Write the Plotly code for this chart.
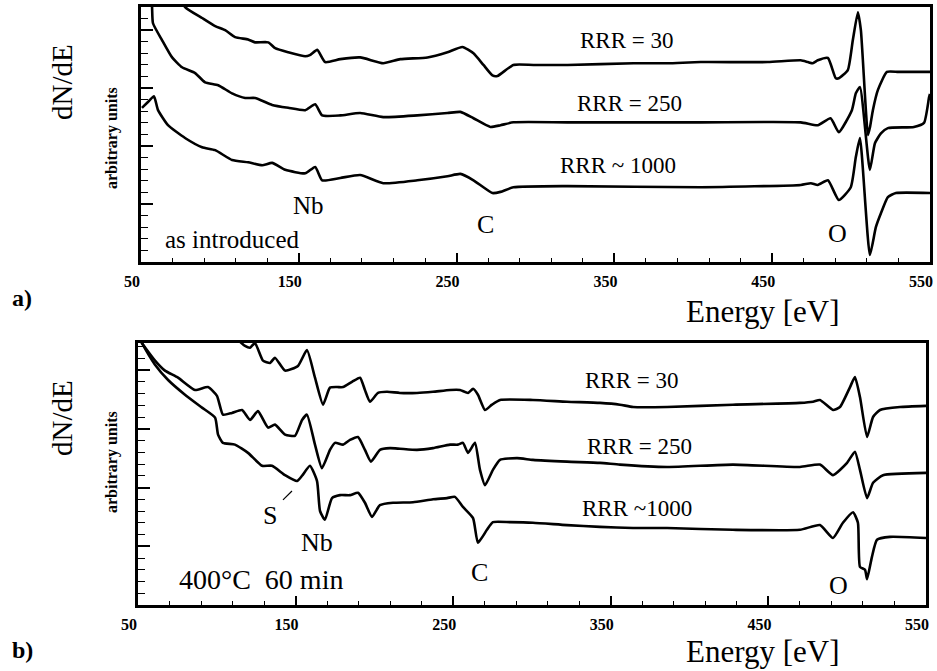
import plotly.graph_objects as go

# ---------------- Panel a) "as introduced" ----------------
a_rrr30_E = [65, 77.9, 88.7, 97.0, 103.3, 109.6, 117.9, 122.3, 130.6, 135.0, 143.3, 154.1, 157.0,
             161.7, 166.7, 176.3, 188.9, 203.5, 214.3, 231.5, 244.2, 253.7, 260.7, 267.0, 272.7,
             275.9, 286.0, 298.7, 320.3, 362.2, 383.7, 404.7, 447.2, 468.1, 472.6, 475.7, 478.9,
             485.3, 490.3, 492.2, 497.9, 501.1, 504.3, 506.2, 510.7, 512.0, 513.8, 517.0, 522.7,
             530.0, 550.0]
a_rrr30_N = [5.0, 4.40, 4.21, 4.07, 4.00, 3.88, 3.84, 3.79, 3.79, 3.69, 3.62, 3.55, 3.57,
             3.66, 3.45, 3.50, 3.53, 3.43, 3.50, 3.53, 3.62, 3.71, 3.60, 3.40, 3.22,
             3.21, 3.40, 3.40, 3.40, 3.43, 3.43, 3.45, 3.45, 3.48, 3.45, 3.43, 3.48,
             3.52, 3.17, 3.17, 3.31, 3.83, 4.31, 4.00, 2.19, 2.33, 2.62, 2.97, 3.28,
             3.28, 3.28]

a_rrr250_E = [55.0, 57.0, 57.6, 63.3, 69.7, 76.0, 84.3, 90.6, 98.9, 107.7, 116.0, 122.3, 133.1,
              143.3, 154.1, 160.4, 164.8, 176.3, 188.9, 203.5, 225.1, 244.2, 252.4, 260.7, 271.4,
              277.8, 286.0, 320.3, 404.7, 468.1, 478.9, 487.0, 492.2, 500.5, 503.0, 505.6, 511.9,
              515.1, 518.9, 523.3, 539.8, 546.2, 549.4, 550.0]
a_rrr250_N = [5.2, 4.40, 4.12, 3.83, 3.53, 3.36, 3.26, 3.10, 3.05, 2.91, 2.83, 2.83, 2.71,
              2.66, 2.62, 2.72, 2.53, 2.53, 2.57, 2.50, 2.53, 2.57, 2.59, 2.48, 2.33,
              2.36, 2.41, 2.41, 2.41, 2.41, 2.36, 2.48, 2.24, 2.62, 2.91, 3.02, 1.59,
              2.05, 2.22, 2.31, 2.33, 2.40, 2.84, 2.90]

a_rrr1000_E = [50.6, 54.4, 58.2, 60.8, 67.1, 77.9, 88.7, 97.0, 107.7, 117.9, 126.8, 133.1, 141.4,
               154.1, 160.4, 164.8, 176.3, 188.9, 203.5, 225.1, 244.2, 252.4, 260.7, 272.7, 277.8,
               286.0, 320.3, 404.7, 468.1, 474.5, 478.9, 485.3, 492.2, 499.8, 503.0, 505.6, 511.9,
               515.7, 518.9, 523.3, 528.4, 550.0]
a_rrr1000_N = [2.66, 2.76, 2.86, 2.62, 2.36, 2.14, 1.98, 1.93, 1.76, 1.72, 1.67, 1.71, 1.59,
               1.53, 1.64, 1.41, 1.45, 1.50, 1.36, 1.41, 1.48, 1.52, 1.41, 1.19, 1.21,
               1.29, 1.31, 1.29, 1.33, 1.36, 1.33, 1.41, 1.07, 1.29, 1.81, 2.14, 0.12,
               0.60, 0.84, 1.12, 1.19, 1.19]

# ---------------- Panel b) "400°C 60 min" ----------------
b_rrr30_E = [105.0, 114.0, 117.9, 121.1, 124.2, 129.3, 133.8, 136.9, 143.3, 151.5, 157.2, 162.3,
             167.4, 171.8, 176.3, 180.1, 185.8, 190.9, 194.0, 197.2, 202.3, 208.0, 216.2, 227.0,
             237.2, 248.0, 254.3, 259.4, 262.6, 265.7, 270.2, 274.6, 279.7, 300.6, 322.2, 343.1,
             355.8, 364.1, 385.7, 427.5, 470.0, 478.3, 482.7, 491.0, 495.4, 501.8, 504.9, 508.1,
             512.6, 516.4, 520.8, 533.5, 550.0]
b_rrr30_N = [4.75, 4.50, 4.41, 4.38, 4.46, 4.16, 4.12, 4.21, 3.99, 4.07, 4.34, 3.87,
             3.41, 3.70, 3.71, 3.71, 3.80, 3.87, 3.66, 3.46, 3.61, 3.63, 3.61, 3.61,
             3.63, 3.66, 3.66, 3.61, 3.68, 3.58, 3.32, 3.41, 3.49, 3.49, 3.46, 3.44,
             3.41, 3.37, 3.37, 3.41, 3.44, 3.46, 3.49, 3.32, 3.37, 3.71, 3.88, 3.54,
             2.86, 3.20, 3.32, 3.37, 3.39]

b_rrr250_E = [50.0, 52.5, 60.8, 67.1, 75.4, 86.2, 94.4, 100.1, 103.9, 109.6, 116.0, 121.1, 126.1,
              132.5, 136.9, 143.3, 149.6, 154.1, 157.2, 162.3, 166.7, 171.8, 175.0, 180.1, 184.5,
              189.6, 194.0, 197.8, 203.5, 209.9, 216.2, 227.0, 237.2, 248.0, 253.0, 256.2, 259.4,
              263.8, 267.0, 270.2, 275.2, 279.7, 290.5, 300.6, 322.2, 343.1, 355.8, 385.7, 427.5,
              470.0, 482.7, 491.0, 499.9, 504.9, 508.1, 512.6, 516.4, 522.7, 550.0]
b_rrr250_N = [4.60, 4.46, 4.16, 3.99, 3.87, 3.66, 3.71, 3.56, 3.24, 3.27, 3.32, 3.15, 3.30,
              3.02, 3.07, 2.90, 2.88, 3.15, 3.24, 2.73, 2.33, 2.64, 2.76, 2.73, 2.81,
              2.86, 2.64, 2.44, 2.64, 2.67, 2.66, 2.64, 2.67, 2.73, 2.73, 2.76, 2.59,
              2.76, 2.30, 2.04, 2.30, 2.47, 2.50, 2.47, 2.44, 2.42, 2.39, 2.35, 2.39,
              2.35, 2.39, 2.21, 2.42, 2.61, 2.30, 1.82, 2.08, 2.21, 2.25]

b_rrr1000_E = [50.0, 52.5, 60.8, 69.1, 79.8, 90.6, 98.9, 100.8, 103.9, 111.5, 119.8, 128.7, 135.0,
               143.3, 150.9, 154.1, 159.1, 163.6, 165.5, 168.6, 173.1, 178.2, 184.5, 189.6, 194.0,
               198.5, 203.5, 211.8, 224.5, 237.2, 246.1, 251.1, 256.2, 262.6, 265.7, 271.4, 275.2,
               286.0, 300.6, 322.2, 343.1, 364.1, 385.7, 427.5, 470.0, 482.7, 491.0, 497.3, 503.7,
               506.8, 508.1, 511.3, 512.6, 515.7, 518.9, 527.1, 550.0]
b_rrr1000_N = [4.60, 4.46, 4.09, 3.83, 3.58, 3.36, 3.19, 2.90, 2.76, 2.73, 2.59, 2.37, 2.37,
               2.21, 2.11, 2.20, 2.37, 2.11, 1.60, 1.45, 1.82, 1.87, 1.87, 1.91, 1.74,
               1.50, 1.70, 1.74, 1.75, 1.80, 1.82, 1.84, 1.67, 1.48, 1.06, 1.28, 1.41,
               1.41, 1.40, 1.36, 1.33, 1.31, 1.31, 1.28, 1.28, 1.36, 1.14, 1.40, 1.58,
               1.40, 0.65, 0.60, 0.44, 0.82, 1.11, 1.16, 1.14]

x_ticks = [50, 150, 250, 350, 450, 550]
x_ticklabels = ["50", "150", "250", "350", "450", "550"]

SERIF = "Liberation Serif, Times New Roman, serif"
LW = 2.6

fig = go.Figure()
for E, N in [(a_rrr30_E, a_rrr30_N), (a_rrr250_E, a_rrr250_N), (a_rrr1000_E, a_rrr1000_N)]:
    fig.add_trace(go.Scatter(x=E, y=N, mode="lines",
                             line=dict(color="black", width=LW, shape="spline", smoothing=0.5),
                             xaxis="x", yaxis="y", showlegend=False, hoverinfo="skip"))
for E, N in [(b_rrr30_E, b_rrr30_N), (b_rrr250_E, b_rrr250_N), (b_rrr1000_E, b_rrr1000_N)]:
    fig.add_trace(go.Scatter(x=E, y=N, mode="lines",
                             line=dict(color="black", width=LW, shape="spline", smoothing=0.5),
                             xaxis="x2", yaxis="y2", showlegend=False, hoverinfo="skip"))

W, H = 937, 671

def xax(domain, anchor):
    return dict(domain=domain, anchor=anchor, range=[50, 550], tickmode="array",
                tickvals=x_ticks, ticktext=x_ticklabels, ticks="inside", ticklen=9,
                tickwidth=1.6, tickcolor="black", showline=True, linewidth=3,
                linecolor="black", mirror=True, showgrid=False, zeroline=False,
                ticklabelstandoff=3, ticklabelshift=-9, automargin=False,
                ticklabeloverflow="allow",
                tickfont=dict(family=SERIF, size=16, color="black", weight="bold"),
                minor=dict(tick0=50, dtick=20, ticks="inside", ticklen=4, tickwidth=1.4,
                           tickcolor="black", showgrid=False))

def yax(domain, anchor, top):
    return dict(domain=domain, anchor=anchor, range=[0, top], tick0=0, dtick=1,
                ticks="inside", ticklen=12, tickwidth=1.6, tickcolor="black",
                showticklabels=False, showline=True, linewidth=3, linecolor="black",
                mirror=True, showgrid=False, zeroline=False, automargin=False,
                minor=dict(tick0=0, dtick=0.2, ticks="inside", ticklen=7, tickwidth=1.4,
                           tickcolor="black", showgrid=False))

fig.update_layout(
    width=W, height=H, margin=dict(l=0, r=0, t=0, b=0, pad=0), autosize=False,
    paper_bgcolor="white", plot_bgcolor="white",
    xaxis=xax([141 / W, 930 / W], "y"),
    yaxis=yax([1 - 262 / H, 1 - 7 / H], "x", 4.4),
    xaxis2=xax([138 / W, 926 / W], "y2"),
    yaxis2=yax([1 - 605 / H, 1 - 343 / H], "x2", 4.46),
)

ann = []
def txt(x, y, s, size, xref="x", yref="y", xanchor="center", angle=0, bold=False):
    ann.append(dict(x=x, y=y, xref=xref, yref=yref, text=s, showarrow=False,
                    xanchor=xanchor, yanchor="middle", textangle=angle,
                    font=dict(family=SERIF, size=size, color="black",
                              weight="bold" if bold else "normal")))

# panel a labels
txt(357.7, 3.83, "RRR = 30", 23)
txt(359.6, 2.74, "RRR = 250", 23)
txt(352.0, 1.66, "RRR ~ 1000", 23)
txt(156.0, 0.97, "Nb", 25)
txt(64.0, 0.38, "as introduced", 25, xanchor="left")
txt(268.3, 0.64, "C", 26)
txt(491.6, 0.50, "O", 26)
# panel b labels
txt(363.4, 3.83, "RRR = 30", 23, xref="x2", yref="y2")
txt(367.9, 2.69, "RRR = 250", 23, xref="x2", yref="y2")
txt(366.6, 1.65, "RRR ~1000", 23, xref="x2", yref="y2")
txt(133.8, 1.53, "S", 26, xref="x2", yref="y2")
txt(163.6, 1.06, "Nb", 26, xref="x2", yref="y2")
txt(74.7, 0.43, "400°C  60 min", 28, xref="x2", yref="y2", xanchor="left")
txt(267.0, 0.55, "C", 26, xref="x2", yref="y2")
txt(494.2, 0.34, "O", 26, xref="x2", yref="y2")

# axis titles and panel letters (paper coordinates)
for (yc_dn, yc_arb, yc_en, yc_let, let) in [(82, 138, 312, 298, "a)"), (418, 462, 651, 650, "b)")]:
    txt(62 / W, 1 - yc_dn / H, "dN/dE", 29, xref="paper", yref="paper", angle=-90)
    txt(112 / W, 1 - yc_arb / H, "arbitrary units", 16, xref="paper", yref="paper",
        angle=-90, bold=True)
    txt(763 / W, 1 - yc_en / H, "Energy [eV]", 31, xref="paper", yref="paper")
    txt(22 / W, 1 - yc_let / H, let, 24, xref="paper", yref="paper", bold=True)

fig.update_layout(annotations=ann)

# small leader line next to "S"
fig.add_shape(type="line", xref="x2", yref="y2", x0=142.0, y0=1.79, x1=147.7, y1=1.94,
              line=dict(color="black", width=1.2))

fig.write_html("out.html", config={"displayModeBar": False},
               post_script="document.body.style.margin='0px';document.body.style.overflow='hidden';")
